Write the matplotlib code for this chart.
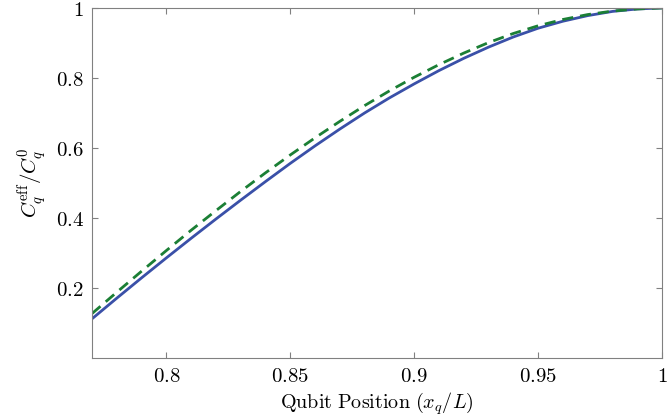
import matplotlib
matplotlib.use("Agg")
import matplotlib.pyplot as plt
from matplotlib.ticker import FixedLocator, FuncFormatter

# qubit position x_q/L
pos = [0.77, 0.78, 0.79, 0.80, 0.81, 0.82, 0.83, 0.84, 0.85, 0.86, 0.87, 0.88,
       0.89, 0.90, 0.91, 0.92, 0.93, 0.94, 0.95, 0.96, 0.97, 0.98, 0.99, 1.00]
# simulated (solid blue)
c_sim = [0.112, 0.171, 0.229, 0.286, 0.342, 0.397, 0.451, 0.504, 0.556, 0.606,
         0.654, 0.700, 0.743, 0.783, 0.821, 0.856, 0.888, 0.917, 0.942, 0.962,
         0.978, 0.990, 0.997, 1.000]
# analytic (dashed green)
c_ana = [0.127, 0.188, 0.248, 0.307, 0.365, 0.421, 0.476, 0.529, 0.580, 0.629,
         0.676, 0.721, 0.763, 0.802, 0.838, 0.871, 0.901, 0.927, 0.949, 0.967,
         0.981, 0.991, 0.997, 1.000]

xticks = [0.8, 0.85, 0.9, 0.95, 1.0]
yticks = [0.2, 0.4, 0.6, 0.8, 1.0]

plt.rcParams['mathtext.fontset'] = 'cm'

fig = plt.figure(figsize=(6.67, 4.17), dpi=100)
ax = fig.add_axes([0.138, 0.1415, 0.8545, 0.8395])

ax.plot(pos, c_sim, color='#3a50a8', lw=2.0)
ax.plot(pos, c_ana, color='#1b7f35', lw=2.0, ls=(0, (4, 2.5)))

ax.set_xlim(0.77, 1.0)
ax.set_ylim(0, 1)

def fmt(v, p):
    return '$%g$' % v

ax.xaxis.set_major_locator(FixedLocator(xticks))
ax.yaxis.set_major_locator(FixedLocator(yticks))
ax.xaxis.set_major_formatter(FuncFormatter(fmt))
ax.yaxis.set_major_formatter(FuncFormatter(fmt))
ax.tick_params(direction='in', length=4, color='#808080', labelsize=15,
               top=True, right=True, pad=6)
for s in ax.spines.values():
    s.set_color('#808080')

ax.set_xlabel(r'$\mathrm{Qubit\ Position}\ (x_q/L)$', fontsize=14.5, labelpad=3)
ax.set_ylabel(r'$C_q^{\mathrm{eff}}/C_q^0$', fontsize=15, labelpad=5)

fig.savefig('out.png', dpi=100)
